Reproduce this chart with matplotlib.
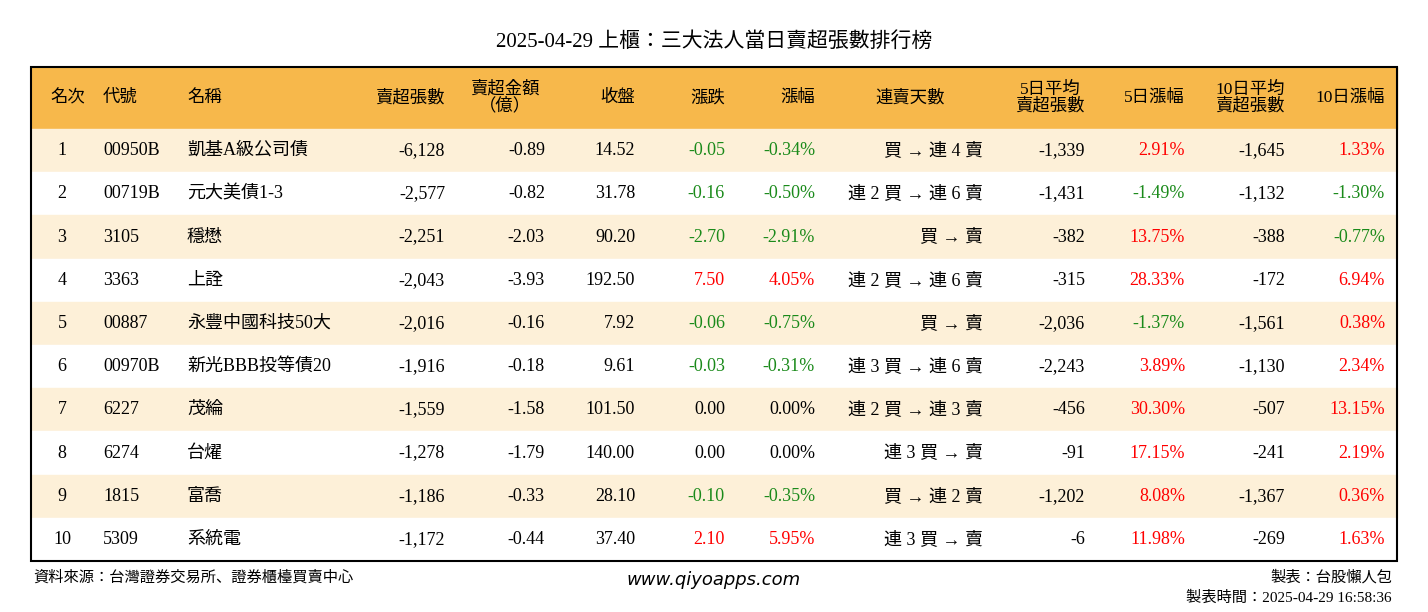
import matplotlib
matplotlib.use("Agg")
import matplotlib.pyplot as plt
from matplotlib.patches import Rectangle
from matplotlib import font_manager

names_avail = {f.name for f in font_manager.fontManager.ttflist}
CJK = [n for n in ["Noto Sans CJK TC", "Noto Sans CJK JP", "Noto Sans CJK SC", "Noto Sans CJK KR",
                   "Noto Sans CJK HK"] if n in names_avail]
SERIF = ["Liberation Serif"] + CJK + ["DejaVu Sans"]
plt.rcParams["font.family"] = SERIF

title = "2025-04-29 上櫃：三大法人當日賣超張數排行榜"
ranks = [1, 2, 3, 4, 5, 6, 7, 8, 9, 10]
codes = ["00950B", "00719B", "3105", "3363", "00887", "00970B", "6227", "6274", "1815", "5309"]
names = ["凱基A級公司債", "元大美債1-3", "穩懋", "上詮", "永豐中國科技50大", "新光BBB投等債20",
         "茂綸", "台燿", "富喬", "系統電"]
net_sell = [-6128, -2577, -2251, -2043, -2016, -1916, -1559, -1278, -1186, -1172]
amount = [-0.89, -0.82, -2.03, -3.93, -0.16, -0.18, -1.58, -1.79, -0.33, -0.44]
close = [14.52, 31.78, 90.20, 192.50, 7.92, 9.61, 101.50, 140.00, 28.10, 37.40]
change = [-0.05, -0.16, -2.70, 7.50, -0.06, -0.03, 0.00, 0.00, -0.10, 2.10]
pct = [-0.34, -0.50, -2.91, 4.05, -0.75, -0.31, 0.00, 0.00, -0.35, 5.95]
streak = ["買 → 連 4 賣", "連 2 買 → 連 6 賣", "買 → 賣", "連 2 買 → 連 6 賣", "買 → 賣",
          "連 3 買 → 連 6 賣", "連 2 買 → 連 3 賣", "連 3 買 → 賣", "買 → 連 2 賣", "連 3 買 → 賣"]
avg5 = [-1339, -1431, -382, -315, -2036, -2243, -456, -91, -1202, -6]
pct5 = [2.91, -1.49, 13.75, 28.33, -1.37, 3.89, 30.30, 17.15, 8.08, 11.98]
avg10 = [-1645, -1132, -388, -172, -1561, -1130, -507, -241, -1367, -269]
pct10 = [1.33, -1.30, -0.77, 6.94, 0.38, 2.34, 13.15, 2.19, 0.36, 1.63]
headers = ["名次", "代號", "名稱", "賣超張數", "賣超金額\n（億）", "收盤", "漲跌", "漲幅",
           "連賣天數", "5日平均\n賣超張數", "5日漲幅", "10日平均\n賣超張數", "10日漲幅"]

W, H = 1428, 612
fig = plt.figure(figsize=(W / 100, H / 100), dpi=100)
ax = fig.add_axes([0, 0, 1, 1])
ax.set_xlim(0, W)
ax.set_ylim(H, 0)
ax.axis("off")

GREEN, RED, BLACK = "#1a8a1a", "#ff0000", "#000000"
def col(v):
    return GREEN if v < 0 else (RED if v > 0 else BLACK)

x0, x1 = 31, 1397
ytop, hh, rh = 67, 62, 43.2
FS = 13
ax.text(W / 2, 42, title, ha="center", va="center", fontsize=15)
ax.add_patch(Rectangle((x0, ytop), x1 - x0, hh, color="#F7B84B", zorder=0))
for i in range(10):
    y = ytop + hh + i * rh
    ax.add_patch(Rectangle((x0, y), x1 - x0, rh, color="#FDF0D8" if i % 2 == 0 else "white", zorder=0))
ax.add_patch(Rectangle((x0, ytop), x1 - x0, hh + 10 * rh, fill=False, ec="black", lw=1.5, zorder=3))

cols = [(62, "center"), (103, "left"), (187, "left"), (445, "right"), (545, "right"), (635, "right"),
        (725, "right"), (815, "right"), (983, "right"), (1085, "right"), (1185, "right"),
        (1285, "right"), (1385, "right")]
hpos = [(68, "center"), (103, "left"), (187, "left"), (445, "right"), (505, "center"), (635, "right"),
        (725, "right"), (815, "right"), (910, "center"), (1085, "right"), (1185, "right"),
        (1285, "right"), (1385, "right")]
hy = ytop + hh / 2
for (x, ha), h in zip(hpos, headers):
    ax.text(x, hy, h, ha=ha, va="center", fontsize=12.5, linespacing=1.0,
            multialignment="center")

for i in range(10):
    y = ytop + hh + i * rh + rh / 2
    vals = [(str(ranks[i]), BLACK), (codes[i], BLACK), (names[i], BLACK),
            (f"{net_sell[i]:,}", BLACK), (f"{amount[i]:.2f}", BLACK), (f"{close[i]:.2f}", BLACK),
            (f"{change[i]:.2f}", col(change[i])), (f"{pct[i]:.2f}%", col(pct[i])),
            (streak[i], BLACK), (f"{avg5[i]:,}", BLACK), (f"{pct5[i]:.2f}%", col(pct5[i])),
            (f"{avg10[i]:,}", BLACK), (f"{pct10[i]:.2f}%", col(pct10[i]))]
    for (x, ha), (t, c) in zip(cols, vals):
        ax.text(x, y, t, ha=ha, va="center", fontsize=FS, color=c)

ax.text(33, 577, "資料來源：台灣證券交易所、證券櫃檯買賣中心", ha="left", va="center", fontsize=11)
ax.text(714, 580, "www.qiyoapps.com", ha="center", va="center", fontsize=13, style="italic",
        family="DejaVu Sans")
ax.text(1392, 577, "製表：台股懶人包", ha="right", va="center", fontsize=11)
ax.text(1392, 598, "製表時間：2025-04-29 16:58:36", ha="right", va="center", fontsize=11)

fig.savefig("out.png", dpi=100, facecolor="white")
